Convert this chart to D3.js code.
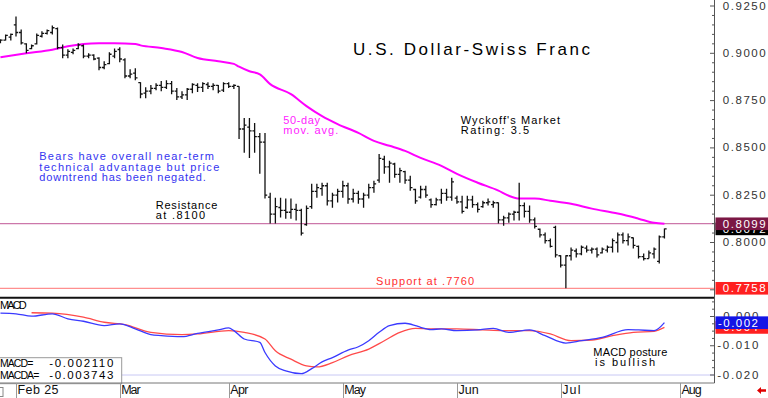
<!DOCTYPE html>
<html>
<head>
<meta charset="utf-8">
<script src="https://cdn.jsdelivr.net/npm/d3@7"></script>
<style>
  html, body { margin: 0; padding: 0; background: #fff; overflow: hidden; }
  svg { display: block; font-family: "Liberation Sans", Arial, sans-serif; }
</style>
</head>
<body>
<svg id="chart" width="768" height="398"></svg>
<script>
// daily bars, one per trading day (index 0 = Jan 29)
const barOpen = [
  .9060,.9070,.9085,.9150,.9110,.9050,.9025,.9050,.9090,.9105,
  .9110,.9130,.9030,.8990,.9005,.9025,.9040,.8985,.8990,.8975,
  .8925,.8945,.8985,.9020,.8965,.8880,.8895,.8845,.8790,.8800,
  .8815,.8830,.8820,.8840,.8800,.8770,.8780,.8810,.8830,.8820,
  .8835,.8825,.8830,.8805,.8840,.8825,.8825,.8600,.8610,.8590,
  .8560,.8530,.8240,.8150,.8185,.8170,.8160,.8175,.8170,.8095,
  .8190,.8270,.8285,.8300,.8220,.8250,.8270,.8300,.8230,.8260,
  .8230,.8250,.8290,.8330,.8440,.8400,.8415,.8360,.8375,.8330,
  .8280,.8240,.8280,.8225,.8200,.8225,.8260,.8240,.8235,.8215,
  .8185,.8225,.8200,.8190,.8210,.8200,.8210,.8120,.8130,.8150,
  .8160,.8195,.8165,.8120,.8070,.8040,.8010,.8080,.7930,.7880,
  .7930,.7955,.7940,.7970,.7960,.7965,.7945,.7960,.7975,.8000,
  .8040,.8010,.8025,.7980,.7925,.7915,.7940,.7900,.8030
];
const barHigh = [
  .9074,.9100,.9105,.9195,.9126,.9053,.9047,.9105,.9116,.9126,
  .9147,.9137,.9047,.9021,.9026,.9053,.9047,.9000,.8995,.8979,
  .8958,.9005,.9026,.9032,.8974,.8916,.8921,.8847,.8821,.8832,
  .8842,.8853,.8858,.8853,.8816,.8800,.8816,.8842,.8842,.8847,
  .8847,.8842,.8832,.8847,.8847,.8837,.8826,.8658,.8658,.8632,
  .8579,.8579,.8263,.8237,.8237,.8232,.8232,.8205,.8179,.8195,
  .8311,.8311,.8316,.8316,.8263,.8284,.8326,.8316,.8284,.8274,
  .8263,.8311,.8326,.8468,.8458,.8432,.8421,.8395,.8379,.8353,
  .8284,.8300,.8300,.8232,.8237,.8284,.8284,.8342,.8247,.8247,
  .8247,.8247,.8211,.8221,.8232,.8221,.8211,.8142,.8158,.8168,
  .8316,.8211,.8195,.8132,.8074,.8053,.8021,.8089,.7932,.7932,
  .7974,.7968,.7984,.7984,.7974,.7974,.7974,.7984,.8021,.8053,
  .8053,.8047,.8026,.7984,.7942,.7958,.7974,.8037,.8074
];
const barLow = [
  .9053,.9068,.9068,.9089,.9047,.9000,.9021,.9047,.9084,.9100,
  .9100,.9021,.8974,.8974,.8995,.9021,.8974,.8974,.8963,.8911,
  .8916,.8942,.8974,.8953,.8868,.8868,.8858,.8763,.8763,.8784,
  .8805,.8800,.8811,.8784,.8753,.8758,.8753,.8789,.8795,.8795,
  .8811,.8805,.8789,.8795,.8816,.8811,.8547,.8474,.8447,.8474,
  .8363,.8232,.8100,.8100,.8132,.8126,.8126,.8116,.8037,.8089,
  .8179,.8237,.8247,.8195,.8184,.8211,.8237,.8205,.8211,.8205,
  .8184,.8232,.8263,.8316,.8363,.8316,.8342,.8316,.8311,.8274,
  .8205,.8232,.8237,.8184,.8195,.8205,.8221,.8221,.8205,.8153,
  .8179,.8184,.8158,.8184,.8195,.8184,.8100,.8089,.8105,.8116,
  .8116,.8132,.8105,.8074,.8026,.7995,.7974,.7921,.7868,.7758,
  .7905,.7921,.7932,.7947,.7942,.7921,.7942,.7947,.7947,.7947,
  .7995,.7984,.7968,.7916,.7905,.7916,.7916,.7889,.8021
];
const barClose = [
  .9070,.9095,.9100,.9110,.9055,.9015,.9040,.9095,.9105,.9120,
  .9135,.9030,.8990,.9010,.9015,.9045,.8985,.8990,.8970,.8925,
  .8940,.8995,.9010,.8970,.8880,.8890,.8870,.8785,.8800,.8815,
  .8830,.8820,.8840,.8800,.8770,.8780,.8810,.8835,.8820,.8840,
  .8825,.8830,.8800,.8840,.8825,.8830,.8600,.8620,.8590,.8560,
  .8530,.8250,.8150,.8190,.8170,.8160,.8175,.8170,.8050,.8180,
  .8270,.8290,.8300,.8220,.8250,.8270,.8300,.8230,.8260,.8230,
  .8250,.8290,.8310,.8445,.8400,.8420,.8360,.8380,.8330,.8290,
  .8220,.8280,.8250,.8200,.8225,.8260,.8240,.8320,.8215,.8165,
  .8225,.8200,.8175,.8210,.8215,.8210,.8120,.8130,.8150,.8160,
  .8195,.8165,.8120,.8085,.8040,.8010,.7980,.7935,.7880,.7930,
  .7960,.7940,.7975,.7960,.7965,.7935,.7965,.7975,.8010,.8040,
  .8010,.8030,.7985,.7925,.7915,.7945,.7965,.8030,.8072
];

// 50-day moving average at these bar indexes
const maIndex = [0,5,10,13,16,19,22,26,27,31,35,38,42,45,46,48,50,52,56,59,62,65,69,72,75,78,81,85,88,92,96,98,100,103,106,110,114,119,123,126,128];
const maValue = [.8979,.9000,.9019,.9037,.9049,.9053,.9053,.9049,.9042,.9028,.9007,.8975,.8958,.8944,.8929,.8905,.8889,.8837,.8784,.8721,.8668,.8626,.8579,.8537,.8511,.8484,.8447,.8405,.8363,.8316,.8274,.8247,.8232,.8232,.8221,.8205,.8179,.8153,.8126,.8104,.8099];

// MACD and its signal line (MACDA)
const macdIndex = [0,3,6,10,13,16,20,23,26,29,31,35,38,42,44,45,47,50,51,53,55,58,60,62,64,67,69,71,73,75,78,80,81,83,85,88,92,95,98,102,105,109,112,116,121,123,126,128];
const macdValue = [.00114,.00093,.0001,.00093,-.00079,-.00162,-.0031,-.00252,-.00424,-.0062,-.00655,-.0069,-.00576,-.00459,-.0039,-.00483,-.00769,-.00886,-.01231,-.0169,-.01862,-.01955,-.01783,-.01552,-.01403,-.01148,-.01034,-.00828,-.00541,-.0031,-.00231,-.0031,-.00369,-.00448,-.00424,-.00483,-.00459,-.00403,-.00541,-.00459,-.00655,-.00907,-.00828,-.00714,-.00448,-.00459,-.00483,-.002110];
const signalIndex = [6,10,16,20,24,29,35,38,44,47,51,53,56,59,61,64,67,71,74,77,80,83,88,93,97,102,106,110,114,118,122,126,128];
const signalValue = [.00128,.00114,-.00024,-.00197,-.00276,-.00541,-.0062,-.00597,-.00483,-.00541,-.00769,-.01172,-.01459,-.0169,-.01724,-.01576,-.01345,-.01114,-.00828,-.00541,-.00403,-.00424,-.00424,-.00459,-.00483,-.00483,-.00597,-.00828,-.00803,-.00655,-.00541,-.00507,-.003743];

const monthLabels = ['Feb 25','Mar','Apr','May','Jun','Jul','Aug'];
const monthStart = [3, 23, 44, 66, 88, 108, 131];
const monthLabelWidth = [41, 19.3, 18.3, 21.7, 20.3, 18.3, 20.3];

const priceLabels = [0.775, 0.800, 0.825, 0.850, 0.875, 0.900, 0.925];
const macdLabels = [0, -0.010, -0.020];
const resistanceLevel = 0.8100;
const supportLevel = 0.7758;

const svg = d3.select('#chart'),
  right = 714.5,
  fmt = f => v => d3.format(f)(v).replace('\u2212', '-');

const x = d3.scaleLinear().domain([3, 131]).range([16, 680]),
  y = d3.scaleLinear().domain([0.800, 0.925]).range([242.5, 6]),
  ym = d3.scaleLinear().domain([0, -0.020]).range([316.5, 375]);

const defs = svg.append('defs');
defs.append('clipPath').attr('id', 'clipPrice')
  .append('rect').attr('x', 0).attr('y', 0).attr('width', right).attr('height', 297);
defs.append('clipPath').attr('id', 'clipMacd')
  .append('rect').attr('x', 0).attr('y', 299).attr('width', right).attr('height', 83.5);

// letters keep their shape, only the gaps widen (like the original's spaced type)
const label = (g, px, py, str, len, size, fill) =>
  g.append('text')
    .attr('x', px).attr('y', py)
    .attr('font-size', size)
    .attr('fill', fill || '#000')
    .attr('textLength', len)
    .attr('lengthAdjust', 'spacing')
    .text(str);

// ---- price panel
const price = svg.append('g').attr('clip-path', 'url(#clipPrice)');

price.append('line')
  .attr('x1', 0).attr('x2', right)
  .attr('y1', y(resistanceLevel)).attr('y2', y(resistanceLevel))
  .attr('stroke', '#cc77aa').attr('stroke-width', 1.2);
price.append('line')
  .attr('x1', 0).attr('x2', right)
  .attr('y1', y(supportLevel)).attr('y2', y(supportLevel))
  .attr('stroke', '#ff8f8f').attr('stroke-width', 1.2);

price.append('path')
  .datum(maIndex.map((d, i) => [d, maValue[i]]))
  .attr('fill', 'none')
  .attr('stroke', '#ff00ff')
  .attr('stroke-width', 2)
  .attr('d', d3.line().x(d => x(d[0])).y(d => y(d[1])).curve(d3.curveMonotoneX));

price.selectAll('path.bar')
  .data(barClose.map((c, i) => ({i, o: barOpen[i], h: barHigh[i], l: barLow[i], c})))
  .join('path')
  .attr('class', 'bar')
  .attr('fill', 'none')
  .attr('stroke', '#111')
  .attr('stroke-width', 1.3)
  .attr('d', d => {
    let bx = x(d.i);
    return `M${bx},${y(d.h)}V${y(d.l)}M${bx - 2.2},${y(d.o)}H${bx}M${bx},${y(d.c)}H${bx + 2.2}`;
  });

// annotations
label(svg, 353, 55, 'U.S. Dollar-Swiss Franc', 237, 17);
label(svg, 283.3, 124, '50-day', 36.7, 11, '#ff22ff');
label(svg, 283.3, 134.3, 'mov. avg.', 55, 11, '#ff22ff');
label(svg, 460.7, 124, "Wyckoff's Market", 99.3, 11);
label(svg, 460.7, 134, 'Rating: 3.5', 68.3, 11);
label(svg, 39.3, 160, 'Bears have overall near-term', 174.7, 11, '#3434f0');
label(svg, 39.3, 170.7, 'technical advantage but price', 180, 11, '#3434f0');
label(svg, 39.3, 180.7, 'downtrend has been negated.', 166.4, 11, '#3434f0');
label(svg, 155.7, 209, 'Resistance', 61.6, 11);
label(svg, 155.7, 219, 'at .8100', 49.3, 11);
label(svg, 376, 285, 'Support at .7760', 98, 11, '#ff3030');

// ---- MACD panel
svg.append('line')
  .attr('x1', 0).attr('x2', right).attr('y1', 297.8).attr('y2', 297.8)
  .attr('stroke', '#111').attr('stroke-width', 2);

const macd = svg.append('g').attr('clip-path', 'url(#clipMacd)');
macd.append('line')
  .attr('x1', 0).attr('x2', right)
  .attr('y1', ym(-0.020)).attr('y2', ym(-0.020))
  .attr('stroke', '#c8c8f4').attr('stroke-width', 1);

const macdLine = d3.line().x(d => x(d[0])).y(d => ym(d[1])).curve(d3.curveMonotoneX);
macd.append('path')
  .datum(signalIndex.map((d, i) => [d, signalValue[i]]))
  .attr('fill', 'none').attr('stroke', '#ff4a4a').attr('stroke-width', 1.3)
  .attr('d', macdLine);
macd.append('path')
  .datum(macdIndex.map((d, i) => [d, macdValue[i]]))
  .attr('fill', 'none').attr('stroke', '#3a3aff').attr('stroke-width', 1.3)
  .attr('d', macdLine);

label(svg, 0, 309.3, 'MACD', 26.7, 11);
label(svg, 593.3, 356, 'MACD posture', 74, 11);
label(svg, 595, 366, 'is bullish', 60, 11);

const readout = svg.append('g');
readout.append('rect')
  .attr('x', -1).attr('y', 357.7).attr('width', 122.7).attr('height', 26)
  .attr('fill', '#fff').attr('stroke', '#999');
label(readout, 0, 366.7, 'MACD=', 33.3, 10.5);
label(readout, 49.3, 366.7, fmt('.6f')(macdValue[macdValue.length - 1]), 64, 11.5);
label(readout, 0, 379.3, 'MACDA=', 39.3, 10.5);
label(readout, 49.3, 379.3, fmt('.6f')(signalValue[signalValue.length - 1]), 64, 11.5);

// ---- time axis
svg.append('line')
  .attr('x1', 0).attr('x2', right).attr('y1', 383).attr('y2', 383)
  .attr('stroke', '#777');
const months = svg.selectAll('g.month')
  .data(monthLabels.map((m, i) => ({m, i: monthStart[i], w: monthLabelWidth[i]})))
  .join('g').attr('class', 'month');
months.append('line')
  .attr('x1', d => Math.round(x(d.i)) + 0.5).attr('x2', d => Math.round(x(d.i)) + 0.5)
  .attr('y1', 383).attr('y2', 398)
  .attr('stroke', '#999');
months.each((d, i, t) => label(d3.select(t[i]), x(d.i) + 1.5, 394, d.m, d.w, 12.5, '#111'));

svg.append('rect')
  .attr('x', -4).attr('y', 387.5).attr('width', 7).attr('height', 9)
  .attr('fill', 'none').attr('stroke', '#888');
svg.append('polygon')
  .attr('points', '757,390.5 761,387 761,389.3 766,389.3 766,391.7 761,391.7 761,394')
  .attr('fill', '#e00000');

// ---- right-hand value axis
svg.append('line')
  .attr('x1', right).attr('x2', right).attr('y1', 0).attr('y2', 383)
  .attr('stroke', '#555');

const minorPrice = d3.range(155, 186).map(k => k * 0.005);
svg.selectAll('line.pminor')
  .data(minorPrice)
  .join('line').attr('class', 'pminor')
  .attr('x1', d => priceLabels.some(p => Math.abs(p - d) < 1e-6) ? right - 4.5 : right - 2.5)
  .attr('x2', right)
  .attr('y1', d => y(d)).attr('y2', d => y(d))
  .attr('stroke', '#555');
priceLabels.forEach(p => label(svg, 722.7, y(p) + 3.5, fmt('.4f')(p), 43, 11.5, '#333'));

const minorMacd = d3.range(-8, 3).map(k => k * 0.0025);
svg.selectAll('line.mminor')
  .data(minorMacd)
  .join('line').attr('class', 'mminor')
  .attr('x1', d => Math.abs(d * 100 - Math.round(d * 100)) < 1e-6 ? right - 4.5 : right - 2.5)
  .attr('x2', right)
  .attr('y1', d => ym(d)).attr('y2', d => ym(d))
  .attr('stroke', '#555');
macdLabels.forEach(v => {
  let s = fmt('.3f')(v);
  label(svg, v < 0 ? 717.3 : 723.3, ym(v) + 3.5, s, v < 0 ? 41 : 35, 11.5, '#333');
});

// value flags on the axis
const flag = (val, scale, fill, fmtStr, len, neg) => {
  let cy = scale(val), g = svg.append('g');
  g.append('rect')
    .attr('x', right + 1).attr('y', cy - 6.3).attr('width', 768 - right).attr('height', 12.6)
    .attr('fill', fill);
  label(g, neg ? 718 : 722.7, cy + 4, fmt(fmtStr)(val), len, 11.5, '#fff');
};
flag(barClose[barClose.length - 1], y, '#000', '.4f', 43);
flag(maValue[maValue.length - 1], y, '#7b1745', '.4f', 43);
flag(supportLevel, y, '#ff2020', '.4f', 43);
flag(signalValue[signalValue.length - 1], ym, '#ff2020', '.3f', 40, true);
flag(macdValue[macdValue.length - 1], ym, '#1414e6', '.3f', 40, true);
</script>
</body>
</html>
